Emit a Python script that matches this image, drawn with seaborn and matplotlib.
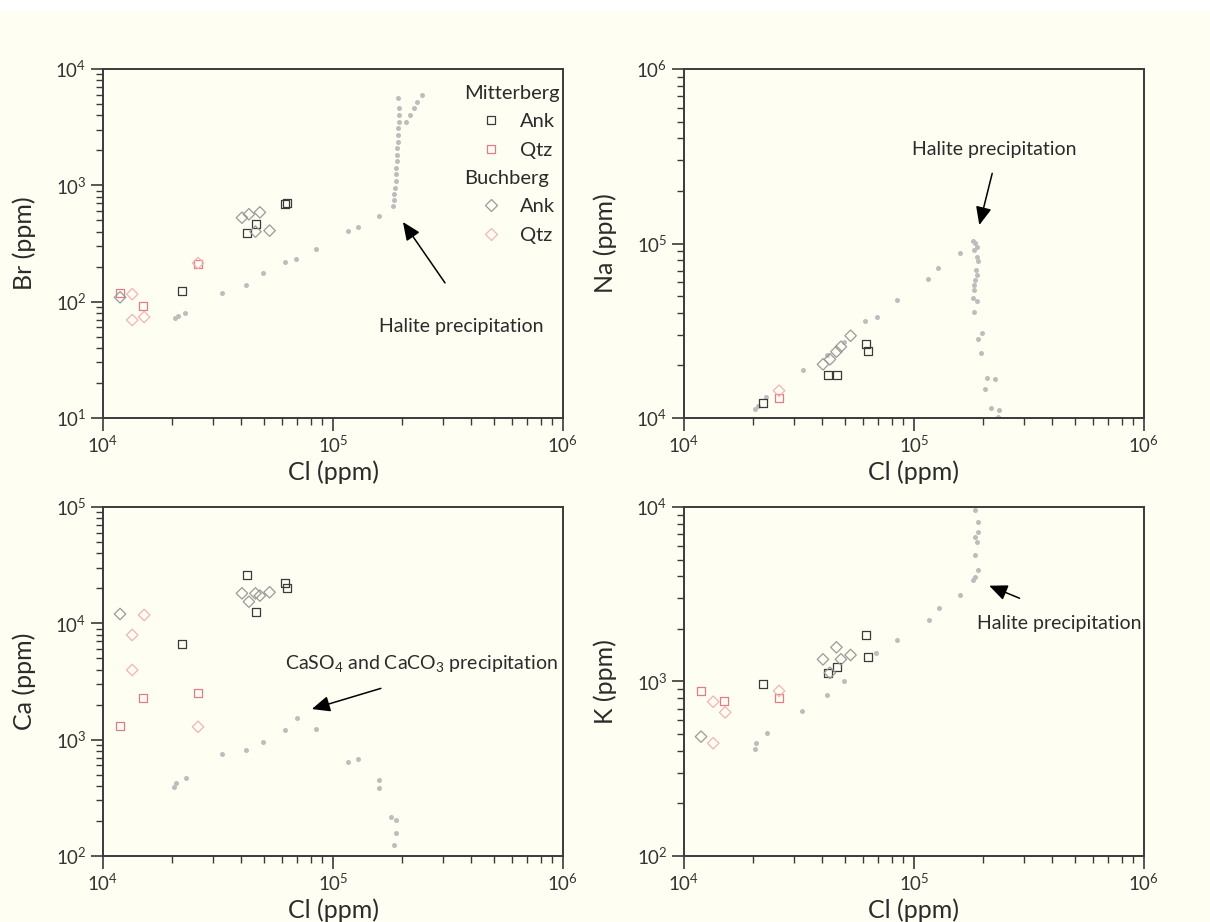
import numpy as np
import matplotlib
matplotlib.use("Agg")
import matplotlib.pyplot as plt
import seaborn as sns
from matplotlib.lines import Line2D
from matplotlib.patches import Rectangle
from matplotlib.ticker import NullFormatter

# ---- Fluid inclusion analyses (ppm); NaN = below plotted range / not determined ----
mit_ank_cl = [22100, 42200, 46200, 61800, 63300]
mit_ank_br = [124, 387, 468, 690, 701]
mit_ank_na = [12140, 17630, 17630, 26500, 24300]
mit_ank_ca = [6600, 26100, 12450, 22400, 20000]
mit_ank_k = [968, 1122, 1216, 1845, 1387]

mit_qtz_cl = [11860, 14950, 25800]
mit_qtz_br = [118, 92, 211]
mit_qtz_na = [np.nan, np.nan, 12970]
mit_qtz_ca = [1318, 2300, 2540]
mit_qtz_k = [883, 773, 801]

buc_ank_cl = [11860, 40200, 43100, 46000, 48100, 53000]
buc_ank_br = [109, 527, 564, 400, 586, 408]
buc_ank_na = [np.nan, 20300, 21700, 24000, 25600, 29600]
buc_ank_ca = [12030, 18100, 15350, 18100, 17300, 18500]
buc_ank_k = [483, 1340, 1122, 1570, 1340, 1419]

buc_qtz_cl = [13400, 13400, 15100, 25900]
buc_qtz_br = [116, 69.5, 73.8, 215]
buc_qtz_na = [np.nan, np.nan, np.nan, 14340]
buc_qtz_ca = [7940, 3970, 11800, 1290]
buc_qtz_k = [766, 443, 665, 883]

# ---- Seawater evaporation trend ----
sw_br_cl = [20550, 21200, 22750, 32900, 41900, 49800, 61700, 69200, 84100, 116700,
            128000, 158500, 182500, 183500, 185000, 186500, 188000, 187000, 188500,
            189500, 190000, 189000, 191000, 192000, 192500, 193000, 193500, 193000,
            192000, 208000, 216000, 224000, 231000, 243000]
sw_br = [72.8, 75.3, 79.5, 119, 140, 176, 221, 234, 286, 405,
         441, 545, 664, 748, 843, 949, 1089, 1251, 1409,
         1619, 1823, 2094, 2360, 2711, 3114, 3508, 4030, 4630,
         5640, 3520, 4030, 4590, 5240, 6000]

sw_na_cl = [20400, 21000, 22800, 32900, 41900, 49800, 61200, 68900, 84100, 115400,
            127600, 158500, 180200, 185000, 188700, 183000, 187000, 190000, 185700,
            187000, 185000, 183000, 182500, 181400, 187000, 182500, 197000, 190000,
            196200, 208000, 225000, 204000, 216000, 233600, 232000]
sw_na = [11260, 11700, 13150, 18750, 23000, 27400, 35900, 38000, 47400, 62800,
         72100, 88500, 103800, 100200, 95900, 91800, 84000, 79700, 70500,
         65900, 61700, 57800, 54100, 48500, 47000, 40600, 30600, 28300,
         23500, 16900, 16700, 14600, 11370, 11110, 10170]

sw_ca_cl = [20400, 20700, 22900, 32900, 41700, 49800, 61900, 69500, 84100, 116600,
            128200, 158300, 158300, 179000, 188000, 188000, 183300]
sw_ca = [394, 422, 466, 748, 815, 961, 1211, 1527, 1236, 638,
         678, 450, 386, 218, 204, 157, 124]

sw_k_cl = [20260, 20660, 22860, 32700, 41800, 49600, 68500, 84300, 115900,
           127800, 158500, 180300, 184900, 190000, 184900, 187300, 184900, 190000,
           190000, 184900]
sw_k = [408, 442, 508, 680, 838, 1006, 1462, 1729, 2250,
        2626, 3130, 3820, 3960, 4350, 5310, 6330, 6760, 7220,
        8250, 9620]

# ---- styling ----
sns.set_style("ticks")
plt.rcParams["font.family"] = ["Lato", "DejaVu Sans"]
plt.rcParams["mathtext.fontset"] = "custom"
plt.rcParams["mathtext.rm"] = "Lato"
plt.rcParams["mathtext.it"] = "Lato:italic"

BG = "#fefef3"
INK = "#2b2b2b"
C_MIT_ANK = "#3a3a3a"
C_MIT_QTZ = "#e07c86"
C_BUC_ANK = "#9a9a9a"
C_BUC_QTZ = "#f2b4b4"
C_SW = "#bdbdbd"
MS = 34

fig = plt.figure(figsize=(12.1, 9.22), dpi=100, facecolor=BG)
fig.patches.append(Rectangle((0, 1 - 10 / 922), 1, 10 / 922, transform=fig.transFigure,
                             color="white", zorder=-1))

W, H = 460 / 1210, 349 / 922
lefts = [103 / 1210, 684 / 1210]
bottoms = [1 - 418 / 922, 1 - 856 / 922]

panels = [
    dict(pos=(0, 0), lab="Br (ppm)", ylim=(1e1, 1e4), sw=(sw_br_cl, sw_br),
         vals=(mit_ank_br, mit_qtz_br, buc_ank_br, buc_qtz_br)),
    dict(pos=(1, 0), lab="Na (ppm)", ylim=(1e4, 1e6), sw=(sw_na_cl, sw_na),
         vals=(mit_ank_na, mit_qtz_na, buc_ank_na, buc_qtz_na)),
    dict(pos=(0, 1), lab="Ca (ppm)", ylim=(1e2, 1e5), sw=(sw_ca_cl, sw_ca),
         vals=(mit_ank_ca, mit_qtz_ca, buc_ank_ca, buc_qtz_ca)),
    dict(pos=(1, 1), lab="K (ppm)", ylim=(1e2, 1e4), sw=(sw_k_cl, sw_k),
         vals=(mit_ank_k, mit_qtz_k, buc_ank_k, buc_qtz_k)),
]

groups = [
    (mit_ank_cl, "s", C_MIT_ANK),
    (mit_qtz_cl, "s", C_MIT_QTZ),
    (buc_ank_cl, "D", C_BUC_ANK),
    (buc_qtz_cl, "D", C_BUC_QTZ),
]

axes = []
for p in panels:
    c, r = p["pos"]
    ax = fig.add_axes([lefts[c], bottoms[r], W, H])
    ax.set_facecolor(BG)
    ax.set_xscale("log")
    ax.set_yscale("log")

    sns.scatterplot(x=p["sw"][0], y=p["sw"][1], ax=ax, color=C_SW, s=13,
                    linewidth=0, zorder=2)
    for (cl, mk, col), v in zip(groups, p["vals"]):
        sns.scatterplot(x=cl, y=v, ax=ax, marker=mk, s=MS, color=col,
                        facecolor="none", edgecolor=col, linewidth=0.9, zorder=3)

    ax.set_xlim(1e4, 1e6)
    ax.set_ylim(*p["ylim"])
    ax.yaxis.set_minor_formatter(NullFormatter())
    ax.xaxis.set_minor_formatter(NullFormatter())
    for s in ax.spines.values():
        s.set_color("#3a3a3a")
        s.set_linewidth(1.4)
    ax.tick_params(which="both", direction="out", top=False, right=False,
                   colors="#3a3a3a", labelcolor="#333333", labelsize=13.5)
    ax.tick_params(which="major", length=9, width=1.2, pad=3)
    ax.tick_params(which="minor", length=5, width=1.0)
    ax.set_xlabel("Cl (ppm)", fontsize=18, color=INK, labelpad=3)
    ax.set_ylabel(p["lab"], fontsize=18, color=INK, labelpad=14)
    axes.append(ax)

ax1, ax2, ax3, ax4 = axes

arrow = dict(arrowstyle="-|>,head_length=0.55,head_width=0.24", color="black",
             lw=1.1, mutation_scale=20, shrinkA=0, shrinkB=0)
txt = dict(fontsize=14, color=INK, ha="center", va="center")

ax1.annotate("", xy=(201400, 484), xytext=(306900, 145), arrowprops=arrow)
ax1.text(360600, 61, "Halite precipitation", **txt)

ax2.annotate("", xy=(192300, 127600), xytext=(218800, 252300), arrowprops=arrow)
ax2.text(222600, 343700, "Halite precipitation", **txt)

ax3.annotate("", xy=(80900, 1833), xytext=(161500, 2760), arrowprops=arrow)
ax3.text(242700, 4530, r"CaSO$_4$ and CaCO$_3$ precipitation", **txt)

ax4.annotate("", xy=(212300, 3540), xytext=(287600, 3000), arrowprops=arrow)
ax4.text(426600, 2153, "Halite precipitation", **txt)

# legend with locality headers
blank = Line2D([], [], ls="none")
handles = [
    blank,
    Line2D([], [], ls="none", marker="s", ms=5.8, mfc="none", mec=C_MIT_ANK, mew=0.9),
    Line2D([], [], ls="none", marker="s", ms=5.8, mfc="none", mec=C_MIT_QTZ, mew=0.9),
    blank,
    Line2D([], [], ls="none", marker="D", ms=5.8, mfc="none", mec=C_BUC_ANK, mew=0.9),
    Line2D([], [], ls="none", marker="D", ms=5.8, mfc="none", mec=C_BUC_QTZ, mew=0.9),
]
labels = ["Mitterberg", "Ank", "Qtz", "Buchberg", "Ank", "Qtz"]
leg = ax1.legend(handles, labels, loc="upper left", bbox_to_anchor=(0.783, 0.955),
                 frameon=False, fontsize=14.5, handlelength=2.75, handletextpad=0.05,
                 labelspacing=0.56, borderpad=0, borderaxespad=0)
for t in leg.get_texts():
    t.set_color(INK)
items = leg._legend_handle_box.get_children()[0].get_children()
for i in (0, 3):
    items[i].get_children()[0].set_width(0)

fig.savefig("out.png", dpi=100, facecolor=BG)
